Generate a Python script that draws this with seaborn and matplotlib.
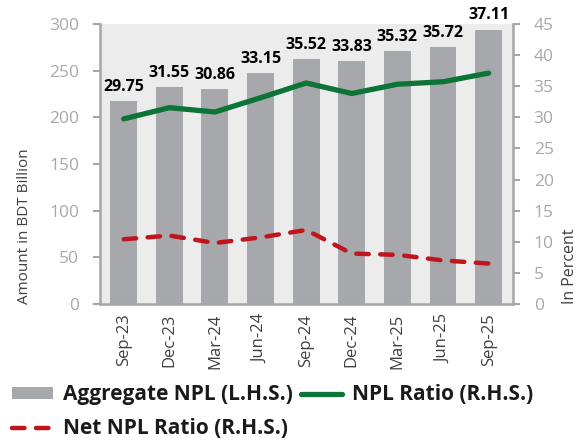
import matplotlib
matplotlib.use("Agg")
import matplotlib.pyplot as plt
import seaborn as sns
import numpy as np
import pandas as pd
from matplotlib.patches import Patch
from matplotlib.lines import Line2D

quarters = ["Sep-23", "Dec-23", "Mar-24", "Jun-24", "Sep-24", "Dec-24", "Mar-25", "Jun-25", "Sep-25"]
aggregate_npl = [217, 232, 230, 247, 262, 260, 271, 275, 294]
npl_ratio = [29.75, 31.55, 30.86, 33.15, 35.52, 33.83, 35.32, 35.72, 37.11]
net_npl_ratio = [10.4, 11.0, 9.8, 10.7, 11.9, 8.1, 7.9, 7.0, 6.5]

sns.set_theme(style="white")
plt.rcParams['font.family'] = ['Open Sans', 'DejaVu Sans']

BAR = "#a7a8ac"
GREEN = "#0b7436"
RED = "#c0141f"
AXC = "#a6a6a6"
TXT = "#404040"

df = pd.DataFrame({"q": quarters, "agg": aggregate_npl, "npl": npl_ratio, "net": net_npl_ratio, "x": np.arange(len(quarters))})

fig = plt.figure(figsize=(5.79, 4.43), dpi=100)
ax = fig.add_axes([0.1727, 0.3138, 0.713, 0.632])
ax.set_facecolor("#ececec")

sns.barplot(data=df, x="q", y="agg", color=BAR, width=0.59, saturation=1, ax=ax, zorder=2, linewidth=0)
ax.set_xlim(-0.52, len(quarters) - 0.47)
ax.set_ylim(0, 300)
ax.set_yticks(range(0, 301, 50))

ax2 = ax.twinx()
sns.lineplot(data=df, x="x", y="npl", color=GREEN, linewidth=3.8, ax=ax2, solid_capstyle="round", zorder=3)
sns.lineplot(data=df, x="x", y="net", color=RED, linewidth=3.2, ax=ax2, zorder=3)
ax2.lines[1].set_dashes([2.8, 2.6])
ax2.lines[1].set_dash_capstyle("round")
ax2.set_ylim(0, 45)
ax2.set_yticks(range(0, 46, 5))
ax2.set_xlim(-0.52, len(quarters) - 0.47)

for xi, v, h in zip(df["x"], npl_ratio, aggregate_npl):
    ax.annotate(f"{v:.2f}", (xi, h), xytext=(0, 4.5), textcoords="offset points",
                ha="center", va="bottom", fontsize=11.5, fontweight="bold", color="black", zorder=5)

for a in (ax, ax2):
    for s in a.spines.values():
        s.set_visible(False)
ax.spines["left"].set_visible(True)
ax.spines["bottom"].set_visible(True)
ax2.spines["right"].set_visible(True)
for s in (ax.spines["left"], ax.spines["bottom"], ax2.spines["right"]):
    s.set_color(AXC)
    s.set_linewidth(1.8)

ax.tick_params(axis="y", colors=AXC, labelsize=12.5, length=5, width=1.5, left=True, pad=10)
ax.tick_params(axis="y", labelcolor="#a8a8a8")
ax.tick_params(axis="x", length=0, labelsize=12, labelcolor=TXT, labelrotation=90, pad=7)
ax2.tick_params(axis="y", colors=AXC, labelsize=12.5, length=5, width=1.5, right=True, pad=10)
ax2.tick_params(axis="y", labelcolor="#a8a8a8")

ax.set_xlabel("")
ax.set_ylabel("Amount in BDT Billion", fontsize=11, color=TXT, loc="bottom", labelpad=12)
ax2.set_ylabel("In Percent", fontsize=11.5, color=TXT, loc="bottom", labelpad=6)
ax.grid(False)
ax2.grid(False)

handles = [Patch(facecolor=BAR, edgecolor="none", label="Aggregate NPL (L.H.S.)"),
           Line2D([], [], color=RED, linewidth=3.2, dashes=[2.8, 2.6], dash_capstyle="round", label="Net NPL Ratio (R.H.S.)"),
           Line2D([], [], color=GREEN, linewidth=3.8, solid_capstyle="round", label="NPL Ratio (R.H.S.)")]
leg = fig.legend(handles=handles, ncol=2, loc="lower left", bbox_to_anchor=(0.01, -0.006),
                 frameon=False, prop={"size": 15, "weight": "bold"},
                 handlelength=1.95, handleheight=0.45, handletextpad=0.5, columnspacing=0.4,
                 labelspacing=0.62, borderaxespad=0.0, borderpad=0.3)
for t in leg.get_texts():
    t.set_color("#1a1a1a")

fig.savefig("out.png", dpi=100)
